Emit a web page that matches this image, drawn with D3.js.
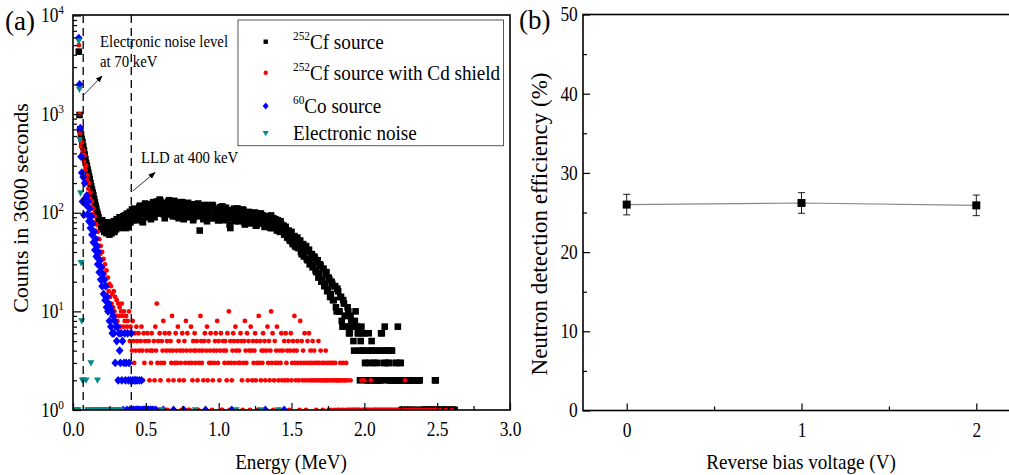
<!DOCTYPE html>
<html>
<head>
<meta charset="utf-8">
<script src="https://cdn.jsdelivr.net/npm/d3@7"></script>
<style>
  body { margin: 0; background: #fff; }
  svg { display: block; }
  text { font-family: 'Liberation Serif', 'Times New Roman', Times, 'DejaVu Serif', serif; }
</style>
</head>
<body>
<svg id="chart" width="1009" height="475"></svg>
<script>
// ---- panel (a): spectra, counts per energy channel ----
const cfE0 = 0.04, cfStep = 0.005;   // 252Cf source
const cfCounts = [
  4300, 980, 700, 620, 560, 520, 470, 430, 390, 350, 320, 300, 275, 255, 235, 220, 200, 185, 172, 160,
  150, 138, 128, 118, 110, 102, 96, 90, 84, 80, 76, 72, 84, 68, 74, 64, 78, 70, 62, 80,
  72, 66, 60, 78, 68, 62, 75, 70, 82, 64, 76, 68, 86, 72, 74, 80, 90, 70, 84, 78,
  79, 92, 74, 94, 83, 70, 98, 86, 72, 96, 102, 80, 88, 108, 96, 84, 110, 92, 84, 100,
  104, 88, 92, 114, 118, 96, 98, 82, 80, 104, 108, 124, 100, 90, 122, 106, 94, 116, 112, 86,
  104, 120, 128, 94, 90, 112, 110, 130, 124, 98, 100, 136, 132, 104, 106, 118, 116, 96, 88, 126,
  122, 98, 108, 130, 134, 100, 96, 112, 118, 92, 112, 132, 128, 104, 92, 120, 114, 88, 124, 102,
  104, 128, 128, 96, 86, 112, 116, 124, 108, 90, 126, 100, 96, 118, 112, 94, 122, 84, 90, 116,
  110, 98, 104, 122, 124, 92, 66, 106, 108, 118, 118, 86, 94, 112, 120, 100, 82, 108, 106, 92,
  116, 88, 96, 120, 118, 90, 88, 110, 108, 96, 102, 84, 84, 108, 114, 90, 96, 116, 105, 84,
  90, 112, 112, 88, 94, 106, 104, 76, 70, 98, 106, 88, 92, 110, 102, 82, 86, 110, 110, 90,
  82, 104, 98, 86, 90, 108, 106, 80, 76, 100, 96, 86, 86, 102, 100, 78, 80, 98, 94, 84,
  88, 100, 100, 74, 74, 96, 92, 82, 84, 98, 98, 78, 78, 94, 90, 72, 72, 92, 88, 80,
  84, 92, 78, 70, 94, 84, 70, 88, 82, 72, 86, 76, 66, 84, 80, 70, 64, 82, 76, 66,
  70, 74, 60, 64, 72, 66, 56, 62, 66, 54, 52, 60, 64, 50, 48, 56, 58, 46, 45, 54,
  56, 44, 44, 52, 52, 40, 38, 48, 48, 36, 40, 44, 46, 34, 33, 42, 42, 30, 32, 38,
  38, 28, 29, 36, 35, 26, 25, 32, 33, 22, 24, 30, 29, 20, 21, 27, 27, 18, 19, 24,
  25, 16, 17, 22, 21, 14, 15, 20, 19, 13, 13, 18, 18, 11, 10, 17, 16, 10, 10, 14,
  14, 8, 7, 13, 12, 9, 9, 7, 7, 11, 10, 6, 6, 9, 8, 7, 7, 5, 4, 8,
  10, 7, 7, 6, 6, 4, 2, 5, 7, 4, 4, 6, 6, 3, 3, 2, 2, 4, 6, 3,
  4, 2, 5, 4, 3, 2, 2, 3, 4, 4, 3, 2, 2, 2, 2, 6, 6, 4, 4, 3,
  7, 3, 2, 4, 4, 3, 3, 2, 2, 4, 4, 2, 2, 2, 2, 3, 3, 2, 7, 2,
  2, 3, 3, 1, 1, 2, 2, 1, 1, 2, 2, 1, 1, 2, 2, 1, 1, 2, 2, 1,
  2, 2, 1, 1, 2, 2, 2, 2, 2, 1, 1, 0, 0, 1, 1, 1, 1, 0, 1, 1,
  0, 1, 1, 1, 1, 0, 1, 1, 1, 2, 2, 1, 1, 1, 0, 1, 1, 0, 1, 1,
  1, 1, 1, 0, 0, 1, 1, 1, 1, 0, 0, 1, 1, 1, 1, 1, 1
];

const cdE0 = 0.04, cdStep = 0.005;  // 252Cf source with Cd shield
const cdCounts = [
  5000, 1000, 640, 470, 520, 400, 430, 330, 380, 270, 300, 215, 240, 175, 200, 140, 160, 115, 130, 96,
  110, 80, 92, 66, 76, 55, 64, 46, 54, 38, 46, 33, 40, 28, 34, 24, 30, 21, 26, 18,
  22, 16, 19, 14, 18, 12, 15, 11, 16, 10, 14, 9, 13, 8, 12, 9, 11, 7, 10, 12,
  9, 7, 10, 8, 6, 9, 7, 8, 6, 10, 5, 7, 6, 4, 8, 5, 3, 6, 4, 7,
  5, 2, 6, 4, 1, 5, 7, 4, 2, 6, 3, 5, 1, 4, 6, 1, 5, 2, 4, 3,
  6, 4, 1, 5, 2, 7, 4, 12, 3, 5, 1, 6, 2, 3, 5, 4, 8, 3, 6, 1,
  4, 5, 1, 2, 6, 4, 5, 3, 9, 4, 2, 1, 3, 6, 4, 3, 7, 5, 2, 4,
  3, 1, 6, 4, 2, 5, 3, 8, 4, 6, 1, 3, 1, 4, 7, 3, 2, 5, 4, 6,
  3, 4, 5, 2, 1, 3, 4, 9, 5, 3, 4, 2, 5, 6, 1, 4, 7, 2, 5, 3,
  4, 6, 3, 1, 2, 4, 3, 5, 6, 4, 8, 3, 5, 2, 4, 6, 1, 1, 5, 4,
  3, 5, 4, 2, 6, 3, 10, 1, 5, 3, 2, 4, 6, 5, 3, 7, 4, 1, 5, 3,
  4, 3, 6, 5, 2, 1, 3, 5, 8, 4, 3, 6, 2, 5, 4, 1, 7, 4, 2, 5,
  3, 4, 6, 2, 5, 3, 1, 9, 3, 5, 2, 4, 3, 6, 4, 5, 2, 1, 4, 7,
  3, 5, 2, 4, 10, 3, 6, 1, 2, 5, 3, 4, 7, 3, 2, 1, 4, 3, 6, 2,
  4, 1, 5, 2, 6, 3, 4, 2, 5, 1, 4, 6, 2, 3, 5, 4, 9, 3, 2, 4,
  5, 3, 2, 1, 8, 3, 5, 2, 4, 3, 6, 2, 1, 3, 5, 2, 6, 3, 4, 2,
  3, 5, 2, 4, 3, 2, 1, 3, 2, 5, 3, 2, 4, 2, 3, 1, 2, 3, 2, 4,
  2, 3, 2, 1, 3, 2, 1, 3, 2, 3, 2, 1, 3, 2, 2, 1, 2, 1, 2, 3,
  2, 1, 2, 3, 1, 2, 2, 3, 1, 2, 1, 0, 1, 2, 1, 0, 1, 0, 1, 1,
  0, 1, 0, 1, 1, 0, 1, 0, 2, 1, 0, 1, 2, 0, 1, 0, 1, 1, 0, 1,
  0, 2, 1, 0, 1, 0, 1, 1, 0, 1, 0, 1, 0, 1, 1, 0, 1, 0, 1, 1,
  0, 1, 0, 1, 1, 0, 1, 0, 1, 1, 0, 1, 0, 1, 0, 1, 1, 0, 1, 0,
  1, 0, 1, 0, 0, 1, 1, 0, 2, 0, 1, 0, 0, 1, 0, 0, 1, 0, 0, 1,
  0, 0, 1, 0, 0, 1, 0, 0, 0, 1, 0, 0, 1, 0, 0, 0, 1, 0, 0, 0,
  1, 0, 0, 0, 0, 1, 0, 0, 0, 0, 1, 0, 0, 0, 0, 0, 1, 0, 0, 0,
  0, 0, 0, 0, 1, 0, 0, 0, 0, 0, 0, 0, 1
];

const coE0 = 0.04, coStep = 0.005;  // 60Co source
const coCounts = [
  5900, 2000, 720, 370, 255, 130, 230, 95, 200, 140, 120, 150, 96, 130, 82, 110, 70, 92, 60, 78,
  50, 64, 42, 54, 36, 46, 30, 40, 25, 33, 21, 28, 18, 24, 15, 21, 13, 18, 11, 14,
  10, 12, 8, 11, 7, 10, 6, 9, 6, 8, 3, 7, 5, 7, 2, 6, 4, 3, 6, 2,
  5, 1, 3, 6, 2, 3, 1, 6, 2, 3, 1, 2, 6, 1, 2, 1, 2, 1, 2, 1,
  2, 1, 1, 2, 1, 0, 2, 1, 1, 0, 1, 1, 0, 1, 1, 0, 1, 0, 1, 1,
  0, 1, 0, 1, 0, 0, 1, 0
];
const coSingleE = [0.62, 0.69, 0.76, 0.91, 1.09, 1.32, 1.45];

// electronic noise
const noiseE = [0.040, 0.044, 0.048, 0.052, 0.056, 0.060, 0.064, 0.072, 0.090, 0.123, 0.168,
  0.005, 0.015, 0.025, 0.035, 0.10, 0.11, 0.14, 0.15, 0.16, 0.18, 0.19, 0.20, 0.21, 0.22,
  0.23, 0.24, 0.25, 0.26, 0.27, 0.29, 0.31, 0.33, 0.61, 0.84, 1.12, 1.29, 1.41];
const noiseCounts = [5500, 1780, 550, 158, 31, 8, 2, 2, 2, 3, 2,
  1, 1, 1, 1, 1, 1, 1, 1, 1, 1, 1, 1, 1, 1,
  1, 1, 1, 1, 1, 1, 1, 1, 1, 1, 1, 1, 1];

const energyTicks = [0, 0.5, 1.0, 1.5, 2.0, 2.5, 3.0];
const energyMinor = [0.25, 0.75, 1.25, 1.75, 2.25, 2.75];
const countDecades = [1, 10, 100, 1000, 10000];
const noiseLevel = 0.07, lldLevel = 0.4;  // MeV

// ---- panel (b): efficiency vs bias ----
const biasVoltage = [0, 1, 2];
const efficiency = [26.0, 26.2, 25.9];
const efficiencyErr = [1.3, 1.3, 1.3];
const effTicks = [0, 10, 20, 30, 40, 50];
const effMinor = [5, 15, 25, 35, 45];
const biasTicks = [0, 1, 2];
const biasMinor = [0.5, 1.5];

const svg = d3.select('#chart');
const serif = "'Liberation Serif', 'Times New Roman', Times, 'DejaVu Serif', serif";
const squeeze = 0.87;  // figure text is narrower than Liberation Serif

function toPoints(e0, step, counts) {
  return counts.map((c, i) => ({ e: e0 + i * step, c: c })).filter(d => d.c > 0);
}

function addText(x, y, size, anchor, pieces, rot) {
  const t = svg.append('text')
    .attr('transform', rot ? `translate(${x},${y}) rotate(${rot})` : `translate(${x},${y}) scale(${squeeze},1)`)
    .attr('text-anchor', anchor)
    .attr('font-family', serif)
    .attr('font-size', size);
  pieces.forEach(p => {
    if (typeof p === 'string') t.append('tspan').text(p);
    else t.append('tspan').attr('font-size', p.size).attr('dy', p.dy).text(p.text);
  });
  return t;
}

// marker shapes
const shapes = {
  square: s => `M${-s},${-s}h${2 * s}v${2 * s}h${-2 * s}Z`,
  circle: s => `M${-s},0a${s},${s} 0 1,0 ${2 * s},0a${s},${s} 0 1,0 ${-2 * s},0Z`,
  diamond: s => `M0,${-s}L${s * 0.88},0L0,${s}L${-s * 0.88},0Z`,
  triangle: s => `M${-s},${-s * 0.8}L${s},${-s * 0.8}L0,${s}Z`
};

// ================= panel (a) =================
const xa = d3.scaleLinear().domain([0, 3]).range([73, 510]);
const ya = d3.scaleLog().domain([1, 10000]).range([410, 15.5]);

svg.append('defs').append('clipPath').attr('id', 'clipA')
  .append('rect').attr('x', 73).attr('y', 15).attr('width', 437).attr('height', 395);

const plotA = svg.append('g').attr('clip-path', 'url(#clipA)');

const series = [
  { pts: toPoints(cfE0, cfStep, cfCounts), shape: 'square', size: 3.3, color: '#000000' },
  { pts: toPoints(cdE0, cdStep, cdCounts), shape: 'circle', size: 2.4, color: '#ff0000' },
  { pts: toPoints(coE0, coStep, coCounts).concat(coSingleE.map(e => ({ e: e, c: 1 }))), shape: 'diamond', size: 4.4, color: '#0000ff' },
  { pts: noiseE.map((e, i) => ({ e: e, c: noiseCounts[i] })), shape: 'triangle', size: 3.5, color: '#008b8b' }
];

series.forEach(s => {
  plotA.append('g')
    .selectAll('path')
    .data(s.pts)
    .enter()
    .append('path')
    .attr('d', shapes[s.shape](s.size))
    .attr('transform', d => `translate(${xa(d.e)},${ya(d.c)})`)
    .attr('fill', s.color);
});

// dashed level lines
[noiseLevel, lldLevel].forEach(v => {
  svg.append('line')
    .attr('x1', xa(v)).attr('x2', xa(v))
    .attr('y1', 15).attr('y2', 410)
    .attr('stroke', '#000').attr('stroke-width', 1.3)
    .attr('stroke-dasharray', '8,5');
});

// axes (ticks inward)
const gxa = svg.append('g').attr('transform', 'translate(0,410)')
  .call(d3.axisBottom(xa).tickValues(energyTicks).tickSize(-7).tickPadding(12).tickFormat(d3.format('.1f')));
svg.append('g').attr('transform', 'translate(0,410)')
  .call(d3.axisBottom(xa).tickValues(energyMinor).tickSize(-4).tickFormat(''));
svg.append('g').attr('transform', 'translate(73,0)')
  .call(d3.axisLeft(ya).tickValues(countDecades).tickSize(-8).tickFormat(''));
const minorCounts = [];
countDecades.slice(0, 4).forEach(d => { for (let k = 2; k <= 9; k++) minorCounts.push(d * k); });
svg.append('g').attr('transform', 'translate(73,0)')
  .call(d3.axisLeft(ya).tickValues(minorCounts).tickSize(-4).tickFormat(''));

countDecades.forEach(d => {
  addText(64, ya(d) + 6.5, 20, 'end', ['10', { text: String(Math.round(Math.log10(d))), size: 13, dy: -8 }]);
});

// frame
svg.append('rect').attr('x', 73).attr('y', 15).attr('width', 437).attr('height', 395)
  .attr('fill', 'none').attr('stroke', '#000').attr('stroke-width', 1.6);

// legend
svg.append('rect').attr('x', 238).attr('y', 20).attr('width', 265.5).attr('height', 125.7)
  .attr('fill', '#fff').attr('stroke', '#555').attr('stroke-width', 1);
const legendRows = [
  { y: 41.7, sup: '252', text: 'Cf source' },
  { y: 72.7, sup: '252', text: 'Cf source with Cd shield' },
  { y: 106, sup: '60', text: 'Co source' },
  { y: 133.3, sup: '', text: 'Electronic noise' }
];
const legendSizes = [2.2, 2.2, 3.4, 3];
legendRows.forEach((r, i) => {
  svg.append('path')
    .attr('d', shapes[series[i].shape](legendSizes[i]))
    .attr('transform', `translate(265.7,${r.y})`)
    .attr('fill', series[i].color);
  const pieces = r.sup ? [{ text: r.sup, size: 13, dy: -9 }, { text: r.text, size: 22, dy: 9 }] : [r.text];
  addText(293, r.y + 6.8, 22, 'start', pieces);
});

// annotations
svg.append('defs').append('marker')
  .attr('id', 'arrow').attr('viewBox', '0 0 10 10').attr('refX', 9).attr('refY', 5)
  .attr('markerWidth', 7).attr('markerHeight', 7).attr('markerUnits', 'userSpaceOnUse')
  .attr('orient', 'auto')
  .append('path').attr('d', 'M0,1L10,5L0,9Z').attr('fill', '#000');
svg.append('line').attr('x1', xa(noiseLevel) + 0.5).attr('y1', 95).attr('x2', 102).attr('y2', 76)
  .attr('stroke', '#000').attr('stroke-width', 0.8).attr('marker-end', 'url(#arrow)');
svg.append('line').attr('x1', xa(lldLevel) + 1.5).attr('y1', 191).attr('x2', 155).attr('y2', 172.5)
  .attr('stroke', '#000').attr('stroke-width', 0.8).attr('marker-end', 'url(#arrow)');
addText(100, 47, 17, 'start', ['Electronic noise level']);
addText(100, 67, 17, 'start', ['at 70 keV']);
addText(141, 163, 17, 'start', ['LLD at 400 keV']);

addText(5, 30, 27, 'start', ['(a)'], 0.0001);
addText(28, 208, 22, 'middle', ['Counts in 3600 seconds'], -90);
addText(291, 469, 22, 'middle', ['Energy (MeV)']);

// ================= panel (b) =================
const xb = d3.scaleLinear().domain([-0.25, 2.25]).range([583, 1020]);
const yb = d3.scaleLinear().domain([0, 50]).range([410.5, 14.5]);

const gxb = svg.append('g').attr('transform', 'translate(0,410.5)')
  .call(d3.axisBottom(xb).tickValues(biasTicks).tickSize(-7).tickPadding(12).tickFormat(d3.format('d')));
svg.append('g').attr('transform', 'translate(0,410.5)')
  .call(d3.axisBottom(xb).tickValues(biasMinor).tickSize(-4).tickFormat(''));
const gyb = svg.append('g').attr('transform', 'translate(583,0)')
  .call(d3.axisLeft(yb).tickValues(effTicks).tickSize(-7).tickPadding(6).tickFormat(d3.format('d')));
svg.append('g').attr('transform', 'translate(583,0)')
  .call(d3.axisLeft(yb).tickValues(effMinor).tickSize(-4).tickFormat(''));

[gxa, gxb, gyb].forEach(g => {
  g.attr('font-family', serif).attr('font-size', 20);
  g.selectAll('text').attr('font-family', serif).attr('font-size', 20).attr('transform', `scale(${squeeze},1)`);
});
svg.selectAll('.domain').remove();
svg.selectAll('.tick line').attr('stroke-width', 1.2);

svg.append('rect').attr('x', 583).attr('y', 14.5).attr('width', 450).attr('height', 396)
  .attr('fill', 'none').attr('stroke', '#000').attr('stroke-width', 1.6);

const effData = biasVoltage.map((v, i) => ({ v: v, e: efficiency[i], err: efficiencyErr[i] }));

svg.append('path')
  .datum(effData)
  .attr('d', d3.line().x(d => xb(d.v)).y(d => yb(d.e)))
  .attr('fill', 'none').attr('stroke', '#888').attr('stroke-width', 1.2);

const eb = svg.append('g').selectAll('g').data(effData).enter().append('g');
eb.append('line')
  .attr('x1', d => xb(d.v)).attr('x2', d => xb(d.v))
  .attr('y1', d => yb(d.e - d.err)).attr('y2', d => yb(d.e + d.err))
  .attr('stroke', '#000').attr('stroke-width', 0.9);
[-1, 1].forEach(sign => {
  eb.append('line')
    .attr('x1', d => xb(d.v) - 3.5).attr('x2', d => xb(d.v) + 3.5)
    .attr('y1', d => yb(d.e + sign * d.err)).attr('y2', d => yb(d.e + sign * d.err))
    .attr('stroke', '#000').attr('stroke-width', 0.9);
});
eb.append('path')
  .attr('d', shapes.square(4))
  .attr('transform', d => `translate(${xb(d.v)},${yb(d.e)})`)
  .attr('fill', '#000');

addText(519, 29, 27, 'start', ['(b)'], 0.0001);
addText(547, 224, 23, 'middle', ['Neutron detection efficiency (%)'], -90);
addText(801, 469, 22, 'middle', ['Reverse bias voltage (V)']);
</script>
</body>
</html>
